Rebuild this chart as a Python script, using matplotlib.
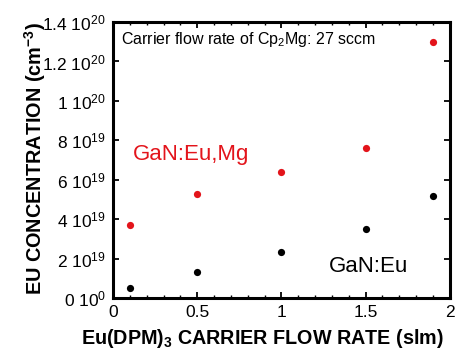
import numpy as np
import matplotlib
matplotlib.use('Agg')
import matplotlib.pyplot as plt

plt.rcParams['font.family'] = ['Liberation Sans', 'DejaVu Sans']
plt.rcParams['mathtext.fontset'] = 'custom'
plt.rcParams['mathtext.rm'] = 'Liberation Sans'
plt.rcParams['mathtext.it'] = 'Liberation Sans:italic'
plt.rcParams['mathtext.bf'] = 'Liberation Sans:bold'

# 数据
flow_rate = [0.1, 0.5, 1.0, 1.5, 1.9]
eu_mg = [3.7e19, 5.3e19, 6.4e19, 7.6e19, 1.30e20]
eu_only = [0.52e19, 1.33e19, 2.32e19, 3.5e19, 5.2e19]

y_ticks = [0, 2e19, 4e19, 6e19, 8e19, 1e20, 1.2e20, 1.4e20]
y_ticklabels = [r'0 $\mathregular{10^{0}}$', r'2 $\mathregular{10^{19}}$', r'4 $\mathregular{10^{19}}$',
                r'6 $\mathregular{10^{19}}$', r'8 $\mathregular{10^{19}}$', r'1 $\mathregular{10^{20}}$',
                r'1.2 $\mathregular{10^{20}}$', r'1.4 $\mathregular{10^{20}}$']
x_ticks = [0, 0.5, 1, 1.5, 2]
x_ticklabels = ['0', '0.5', '1', '1.5', '2']

red = '#e3141b'

fig = plt.figure(figsize=(4.71, 3.55), dpi=100)
ax = fig.add_axes([0.240, 0.160, 0.715, 0.778])

ax.plot(flow_rate, eu_mg, 'o', color=red, markersize=5.2, markeredgewidth=0)
ax.plot(flow_rate, eu_only, 'o', color='black', markersize=5.2, markeredgewidth=0)

ax.set_xlim(0, 2)
ax.set_ylim(0, 1.4e20)
ax.set_xticks(x_ticks)
ax.set_xticklabels(x_ticklabels, fontsize=12.5)
ax.set_xticks(np.arange(0, 2.01, 0.1), minor=True)
ax.set_yticks(y_ticks)
ax.set_yticklabels(y_ticklabels, fontsize=12.5)

for s in ax.spines.values():
    s.set_linewidth(2.2)
ax.tick_params(which='major', direction='in', length=4.5, width=1.3, top=True, right=True, pad=5)
ax.tick_params(which='minor', direction='in', length=2.5, width=1.0, top=True, right=False)
ax.tick_params(axis='y', which='minor', left=False, right=False)

ax.text(0.045, 1.31e20, r'Carrier flow rate of Cp$_\mathregular{2}$Mg: 27 sccm', fontsize=11.5,
        va='center', ha='left')
ax.text(0.115, 7.3e19, 'GaN:Eu,Mg', color=red, fontsize=16, va='center', ha='left')
ax.text(1.28, 1.6e19, 'GaN:Eu', color='black', fontsize=16, va='center', ha='left')

fig.text(262 / 471, 1 - 338 / 355, r'Eu(DPM)$_\mathbf{3}$ CARRIER FLOW RATE (slm)',
         fontsize=14.2, fontweight='bold', ha='center', va='center')
fig.text(35 / 471, 1 - 159 / 355, r'EU CONCENTRATION (cm$^\mathbf{-3}$)',
         fontsize=14.3, fontweight='bold', ha='center', va='center', rotation=90)

fig.savefig('out.png', dpi=100)
